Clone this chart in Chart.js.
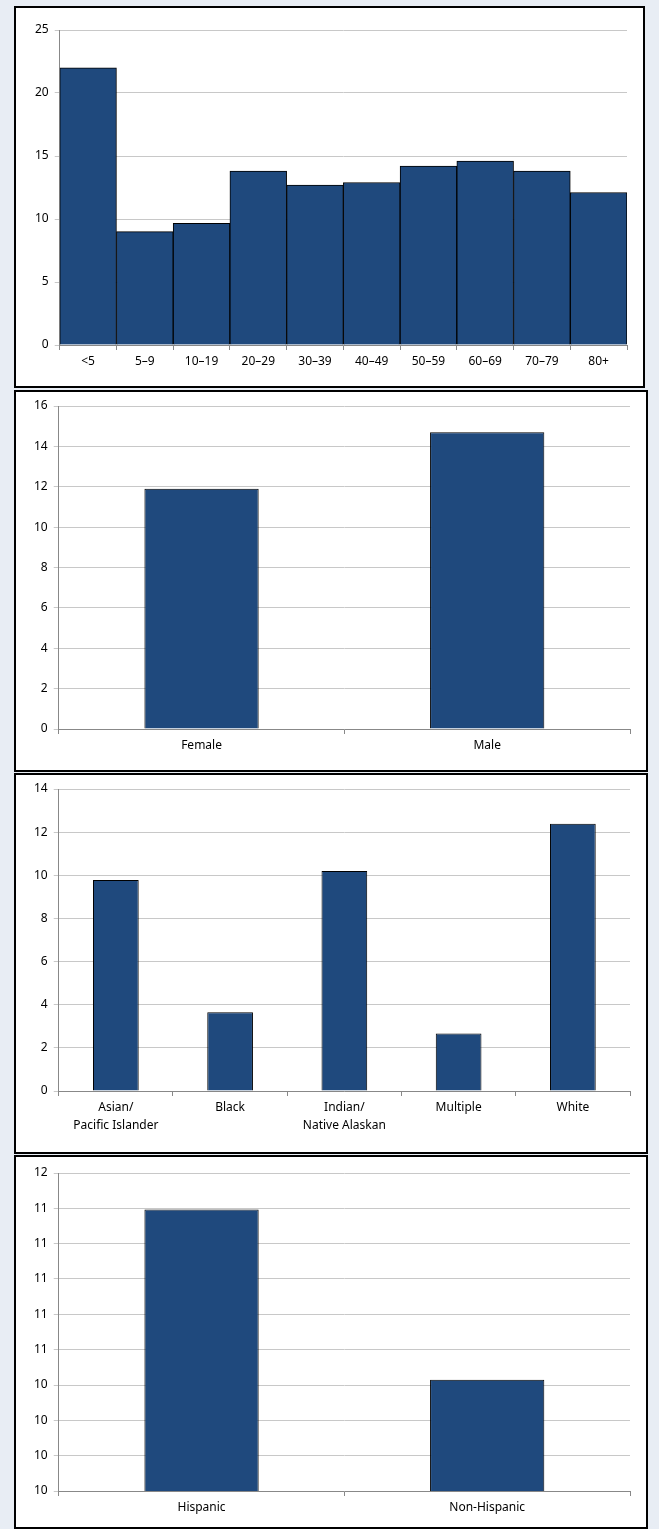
<!DOCTYPE html>
<html><head>
<script src="https://cdn.jsdelivr.net/npm/chart.js@4"></script>
<style>
body{margin:0;background:#e8edf4;width:659px;height:1529px;position:relative;font-family:"Noto Sans"}
.box{position:absolute;background:#fff;border:2px solid #000;box-sizing:border-box}
</style></head><body>
<div class="box" style="left:14px;top:6px;width:631px;height:382px"><canvas id="c1"></canvas></div>
<div class="box" style="left:14px;top:390px;width:634px;height:382px"><canvas id="c2"></canvas></div>
<div class="box" style="left:14px;top:773px;width:634px;height:381px"><canvas id="c3"></canvas></div>
<div class="box" style="left:14px;top:1155px;width:634px;height:374px"><canvas id="c4"></canvas></div>
<script>
var ageLabels = ['<5','5\u20139','10\u201319','20\u201329','30\u201339','40\u201349','50\u201359','60\u201369','70\u201379','80+'];
var ageValues = [22.0, 9.0, 9.65, 13.8, 12.7, 12.9, 14.2, 14.6, 13.8, 12.1];
var sexLabels = ['Female','Male'];
var sexValues = [11.9, 14.7];
var raceLabels = [['Asian/','Pacific Islander'],'Black',['Indian/','Native Alaskan'],'Multiple','White'];
var raceValues = [9.78, 3.65, 10.2, 2.66, 12.39];
var ethLabels = ['Hispanic','Non-Hispanic'];
var ethValues = [11.77, 10.70];
var ethTickLabels = ['10','10','10','10','11','11','11','11','11','12'];

Chart.defaults.font.family = 'Noto Sans';
Chart.defaults.font.size = 12;
Chart.defaults.color = '#000';

function makeChart(id, labels, values, opts){
	return new Chart(document.getElementById(id), {
		type: 'bar',
		data: {labels: labels, datasets: [{
			data: values,
			backgroundColor: '#1f497d',
			borderColor: '#000',
			borderWidth: 1,
			barPercentage: opts.bp,
			categoryPercentage: 1
		}]},
		options: {
			maintainAspectRatio: false,
			animation: false,
			plugins: {legend: {display: false}, tooltip: {enabled: false}},
			layout: {padding: opts.pad},
			scales: {
				x: {
					grid: {display: true, drawOnChartArea: false, offset: true, tickLength: 5, color: '#888'},
					border: {color: '#888'},
					ticks: {maxRotation: 0, font: {size: 12, lineHeight: 1.5}}
				},
				y: {
					min: opts.min, max: opts.max,
					afterBuildTicks: opts.ticks,
					grid: {color: '#c8c8c8', tickLength: 5},
					border: {color: '#888'},
					ticks: {stepSize: opts.step, callback: opts.cb || function(v){ return v; }, padding: 6}
				}
			}
		}
	});
}

makeChart('c1', ageLabels, ageValues, {bp: 1, min: 0, max: 25, step: 5, pad: {top: 22, right: 16, left: 13, bottom: 12}});
makeChart('c2', sexLabels, sexValues, {bp: 0.4, min: 0, max: 16, step: 2, pad: {top: 14, right: 16, left: 12, bottom: 12}});
makeChart('c3', raceLabels, raceValues, {bp: 0.4, min: 0, max: 14, step: 2, pad: {top: 14, right: 16, left: 12, bottom: 14}});
makeChart('c4', ethLabels, ethValues, {bp: 0.4, min: 10, max: 12, pad: {top: 16, right: 16, left: 12, bottom: 7},
	ticks: function(scale){
		scale.ticks = ethTickLabels.map(function(l, i){ return {value: 10 + i * 2 / 9}; });
	},
	cb: function(v, i){ return ethTickLabels[i]; }
});
</script>
</body></html>
